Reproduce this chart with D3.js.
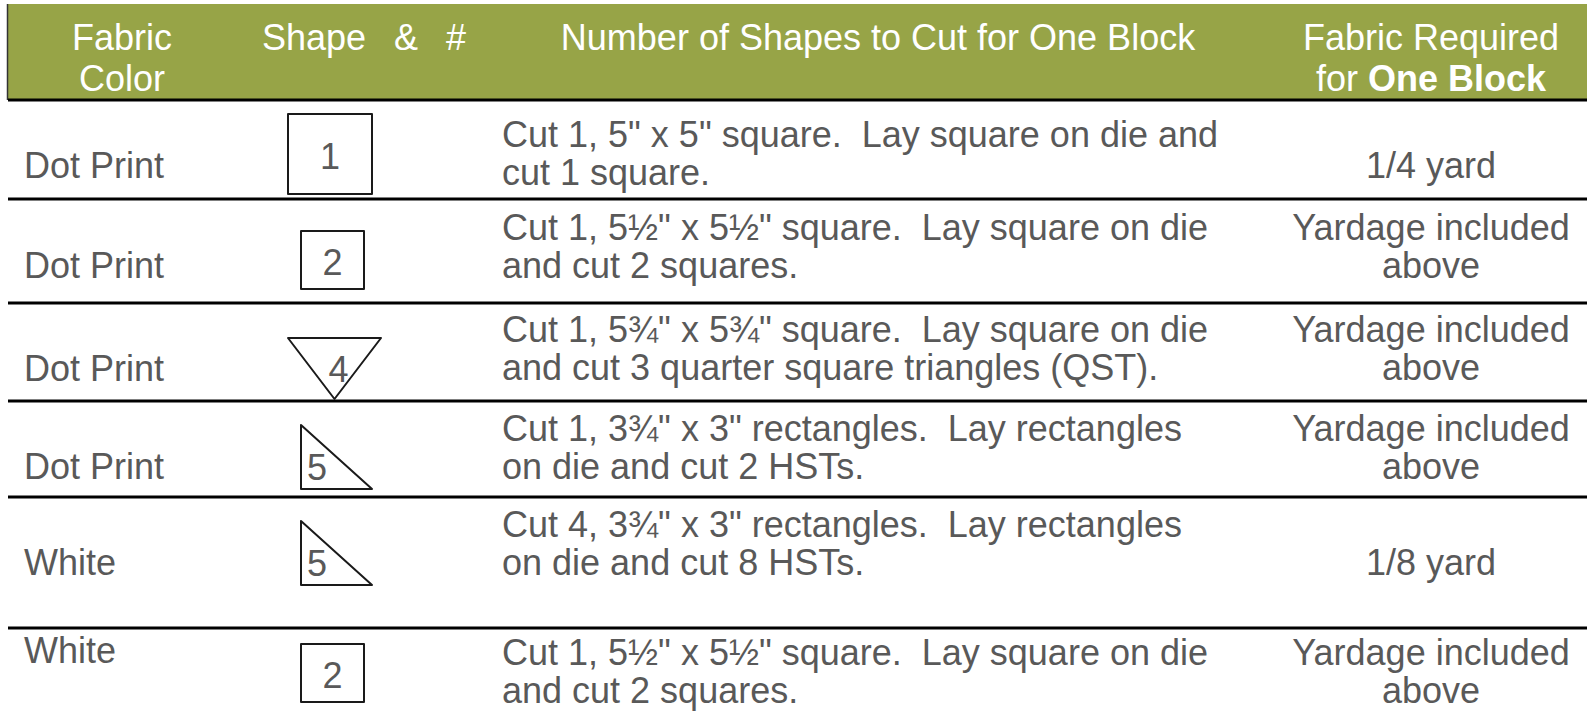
<!DOCTYPE html>
<html>
<head>
<meta charset="utf-8">
<script src="https://cdn.jsdelivr.net/npm/d3@7"></script>
<style>
  body { margin: 0; background: #fff; }
  svg { display: block; font-family: "Liberation Sans", Arial, sans-serif; }
  text { white-space: pre; }
</style>
</head>
<body>
<svg id="chart" width="1587" height="713"></svg>
<script>
// table content
const headerCols = [
    ["Fabric", "Color"],
    ["Shape|&|#"],
    ["Number of Shapes to Cut for One Block"],
    ["Fabric Required", "for |One Block"]
];
const fabricColors = ["Dot Print", "Dot Print", "Dot Print", "Dot Print", "White", "White"];
const shapeKinds = ["square", "square", "qst", "hst", "hst", "square"];
const shapeNumbers = [1, 2, 4, 5, 5, 2];
const cutText = [
    ["Cut 1, 5\" x 5\" square.  Lay square on die and", "cut 1 square."],
    ["Cut 1, 5½\" x 5½\" square.  Lay square on die", "and cut 2 squares."],
    ["Cut 1, 5¾\" x 5¾\" square.  Lay square on die", "and cut 3 quarter square triangles (QST)."],
    ["Cut 1, 3¾\" x 3\" rectangles.  Lay rectangles", "on die and cut 2 HSTs."],
    ["Cut 4, 3¾\" x 3\" rectangles.  Lay rectangles", "on die and cut 8 HSTs."],
    ["Cut 1, 5½\" x 5½\" square.  Lay square on die", "and cut 2 squares."]
];
const fabricRequired = [
    ["1/4 yard"],
    ["Yardage included", "above"],
    ["Yardage included", "above"],
    ["Yardage included", "above"],
    ["1/8 yard"],
    ["Yardage included", "above"]
];

// layout
const W = 1587, H = 713;
const green = "#97a447", textColor = "#595959";
const fontSize = 36, lineGap = 38;
const rowTops = [100, 199, 303, 401, 497, 628];
const labelY = [78, 79, 78, 78, 78, 35];    // baseline of the side labels within a row
const textY = [47, 41, 39, 40, 40, 37];     // first baseline of the two-line cells
const shapeTop = [14, 32, 35, 24, 24, 16];  // offset of the glyph from the row top
const shapeSize = { 1: [84, 80], 2: [63, 58], 4: [93, 61], 5: [71, 64] };
const shapeLeft = { 1: 288, 2: 301, 4: 288, 5: 301 };

const rowY = d3.scaleOrdinal().domain(d3.range(fabricColors.length)).range(rowTops);

const svg = d3.select("#chart");

// header band
svg.append("rect")
    .attr("x", 8).attr("y", 4)
    .attr("width", W - 8).attr("height", 96)
    .attr("fill", green);
svg.append("line")
    .attr("x1", 7.5).attr("x2", 7.5)
    .attr("y1", 4).attr("y2", 100)
    .attr("stroke", "#333").attr("stroke-width", 1.5);

const headerX = [122, 262, 878, 1431];
const headerAnchor = ["middle", "start", "middle", "middle"];
const shapeHeadX = [262, 394, 446];
headerCols.forEach((lines, c) => {
    lines.forEach((ln, i) => {
        const t = svg.append("text")
            .attr("x", headerX[c])
            .attr("y", 50 + i * 41)
            .attr("text-anchor", headerAnchor[c])
            .attr("font-size", fontSize)
            .attr("fill", "#fff");
        ln.split("|").forEach((part, k) => {
            const s = t.append("tspan").text(part);
            if (c === 1) s.attr("x", shapeHeadX[k]);
            else if (k) s.attr("font-weight", "bold");
        });
    });
});

// row separators
svg.selectAll(".sep")
    .data(rowTops)
    .enter()
    .append("line")
    .attr("class", "sep")
    .attr("x1", 8).attr("x2", W)
    .attr("y1", d => d).attr("y2", d => d)
    .attr("stroke", "#000")
    .attr("stroke-width", 3);

const rows = svg.selectAll(".row")
    .data(fabricColors.map((c, i) => ({
        color: c, kind: shapeKinds[i], num: shapeNumbers[i],
        cut: cutText[i], req: fabricRequired[i], i
    })))
    .enter()
    .append("g")
    .attr("class", "row")
    .attr("transform", d => `translate(0,${rowY(d.i)})`);

// fabric colour
rows.append("text")
    .attr("x", 24)
    .attr("y", d => labelY[d.i])
    .attr("font-size", fontSize)
    .attr("fill", textColor)
    .text(d => d.color);

// cutting instructions and yardage
rows.each(function(d) {
    d3.select(this).selectAll(".cut")
        .data(d.cut)
        .enter()
        .append("text")
        .attr("class", "cut")
        .attr("x", 502)
        .attr("y", (t, k) => textY[d.i] + k * lineGap)
        .attr("font-size", fontSize)
        .attr("fill", textColor)
        .text(t => t);

    const single = d.req.length === 1;
    d3.select(this).selectAll(".req")
        .data(d.req)
        .enter()
        .append("text")
        .attr("class", "req")
        .attr("x", 1431)
        .attr("y", (t, k) => single ? labelY[d.i] : textY[d.i] + k * lineGap)
        .attr("text-anchor", "middle")
        .attr("font-size", fontSize)
        .attr("fill", textColor)
        .text(t => t);
});

// shape glyphs
rows.each(function(d) {
    const g = d3.select(this);
    const [w, h] = shapeSize[d.num];
    const x0 = shapeLeft[d.num], y0 = shapeTop[d.i];
    let path, lx, ly;
    if (d.kind === "square") {
        path = `M${x0},${y0}h${w}v${h}h${-w}Z`;
        lx = x0 + w / 2; ly = y0 + h / 2 + 15;
    } else if (d.kind === "qst") {
        path = `M${x0},${y0}L${x0 + w},${y0}L${x0 + w / 2},${y0 + h}Z`;
        lx = x0 + w / 2 + 4; ly = y0 + 44;
    } else {
        path = `M${x0},${y0}L${x0},${y0 + h}L${x0 + w},${y0 + h}Z`;
        lx = x0 + 16; ly = y0 + 55;
    }
    g.append("path")
        .attr("d", path)
        .attr("fill", "none")
        .attr("stroke", "#1a1a1a")
        .attr("stroke-width", 2)
        .attr("stroke-linejoin", "round");
    g.append("text")
        .attr("x", lx).attr("y", ly)
        .attr("text-anchor", "middle")
        .attr("font-size", fontSize)
        .attr("fill", textColor)
        .text(d.num);
});
</script>
</body>
</html>
